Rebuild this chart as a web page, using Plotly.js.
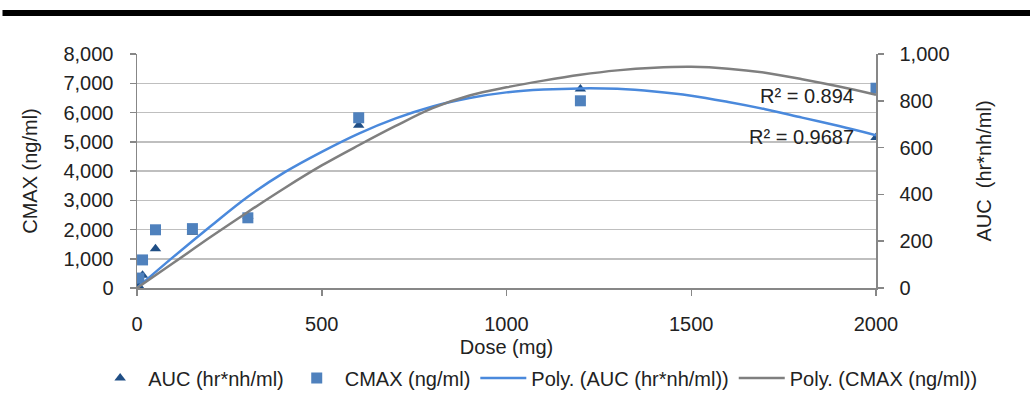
<!DOCTYPE html>
<html>
<head>
<meta charset="utf-8">
<script src="https://cdn.plot.ly/plotly-3.0.1.min.js"></script>
<style>
html,body{margin:0;padding:0;background:#fff;}
#chart{width:1030px;height:394px;}
</style>
</head>
<body>
<div id="chart"></div>
<script>
// Data
const dose = [5, 15, 50, 150, 300, 600, 1200, 2000];
const aucValues = [8, 55, 168, 238, 308, 695, 850, 643];
const cmaxValues = [340, 960, 1990, 2030, 2400, 5820, 6400, 6830];

// Trendlines (Excel "Poly.")
const trendDose = [0, 100, 200, 300, 400, 500, 600, 700, 800, 900, 1000, 1100, 1200, 1300, 1400, 1500, 1600, 1700, 1800, 1900, 2000];
const polyAuc = [0, 135, 265, 390, 495, 582, 660, 725, 776, 812, 836, 848, 853, 851, 840, 822, 795, 764, 728, 692, 653];
const polyCmax = [0, 870, 1750, 2600, 3420, 4190, 4880, 5540, 6150, 6580, 6860, 7090, 7290, 7440, 7530, 7560, 7500, 7360, 7140, 6890, 6610];

const xTicks = [0, 500, 1000, 1500, 2000];
const cmaxTicks = [0, 1000, 2000, 3000, 4000, 5000, 6000, 7000, 8000];
const aucTicks = [0, 200, 400, 600, 800, 1000];

const names = ['AUC (hr*nh/ml)', 'CMAX (ng/ml)', 'Poly. (AUC (hr*nh/ml))', 'Poly. (CMAX (ng/ml))'];
const r2Labels = ['R² = 0.894', 'R² = 0.9687'];

const FONT = 'Liberation Sans, Arial, Helvetica, sans-serif';
const axisGray = '#878787';
const textColor = '#222';

const traces = [
  {x: dose, y: aucValues, name: names[0], type: 'scatter', mode: 'markers', yaxis: 'y',
   marker: {symbol: 'triangle-up', size: 10, color: '#1f4e85'}},
  {x: dose, y: cmaxValues, name: names[1], type: 'scatter', mode: 'markers', yaxis: 'y2',
   marker: {symbol: 'square', size: 11, color: '#4f81bd'}},
  {x: trendDose, y: polyAuc, name: names[2], type: 'scatter', mode: 'lines', yaxis: 'y',
   line: {color: '#4a89dc', width: 2.5, shape: 'spline'}},
  {x: trendDose, y: polyCmax, name: names[3], type: 'scatter', mode: 'lines', yaxis: 'y2',
   line: {color: '#7f7f7f', width: 2.5, shape: 'spline'}}
];

const layout = {
  width: 1030, height: 394,
  margin: {l: 137, r: 154, t: 54, b: 106, pad: 0, autoexpand: false},
  paper_bgcolor: '#fff', plot_bgcolor: '#fff',
  font: {family: FONT, size: 20, color: textColor},
  showlegend: true,
  legend: {orientation: 'h', xref: 'paper', yref: 'paper',
           x: 1.145, xanchor: 'right', y: -0.385, yanchor: 'middle',
           font: {size: 20}, traceorder: 'normal', itemwidth: 46, tracegroupgap: 0},
  xaxis: {
    range: [0, 2000], tickvals: xTicks, ticktext: xTicks.map(String),
    showgrid: false, zeroline: false, showline: true, linecolor: axisGray, linewidth: 1.5,
    ticks: 'outside', ticklen: 6, tickcolor: axisGray, tickwidth: 1.5,
    ticklabelstandoff: 11,
    title: {text: 'Dose (mg)', standoff: 6, font: {size: 20}}
  },
  yaxis: {
    side: 'right', range: [0, 1000], tickvals: aucTicks,
    ticktext: aucTicks.map(v => v.toLocaleString('en-US')),
    showgrid: false, zeroline: false, showline: true, linecolor: axisGray, linewidth: 1.5,
    ticks: 'outside', ticklen: 6, tickcolor: axisGray, tickwidth: 1.5,
    ticklabelstandoff: 12,
    title: {text: 'AUC  (hr*nh/ml)', standoff: 28, font: {size: 20}}
  },
  yaxis2: {
    side: 'left', overlaying: 'y', range: [0, 8000], tickvals: cmaxTicks,
    ticktext: cmaxTicks.map(v => v.toLocaleString('en-US')),
    showgrid: true, gridcolor: '#bfbfbf', gridwidth: 1.5,
    zeroline: false, showline: true, linecolor: axisGray, linewidth: 1.5,
    ticks: 'outside', ticklen: 6, tickcolor: axisGray, tickwidth: 1.5,
    ticklabelstandoff: 12,
    title: {text: 'CMAX (ng/ml)', standoff: 20, font: {size: 20}}
  },
  annotations: [
    {text: r2Labels[0], xref: 'x', yref: 'y2', x: 1945, y: 6580, xanchor: 'right', yanchor: 'middle',
     showarrow: false, font: {size: 20, color: textColor}},
    {text: r2Labels[1], xref: 'x', yref: 'y2', x: 1945, y: 5150, xanchor: 'right', yanchor: 'middle',
     showarrow: false, font: {size: 20, color: textColor}}
  ],
  shapes: [
    {type: 'rect', xref: 'paper', yref: 'paper', x0: -0.182, x1: 1.21, y0: 1.1624, y1: 1.188,
     fillcolor: '#000', line: {width: 0}, layer: 'above'}
  ]
};

Plotly.newPlot('chart', traces, layout, {displayModeBar: false, staticPlot: true});
</script>
</body>
</html>
